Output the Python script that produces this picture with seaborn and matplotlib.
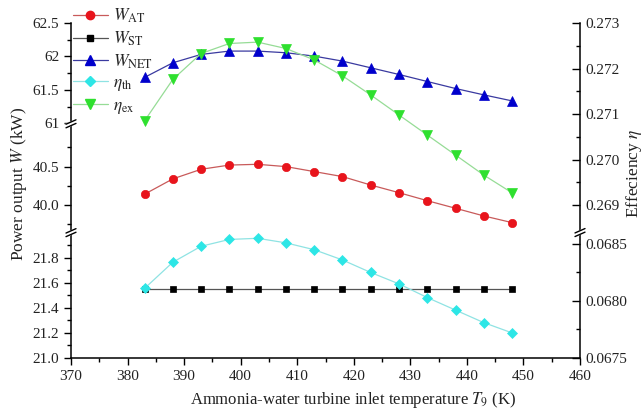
import numpy as np
import pandas as pd
import matplotlib
matplotlib.use("Agg")
import matplotlib.pyplot as plt
from matplotlib.scale import FuncScale
from matplotlib.lines import Line2D
import seaborn as sns

# ---- data -------------------------------------------------------------
T9 = [383, 388, 393, 398, 403, 408, 413, 418, 423, 428, 433, 438, 443, 448]
W_AT = [40.14, 40.34, 40.465, 40.52, 40.53, 40.50, 40.435, 40.37, 40.26,
        40.16, 40.056, 39.957, 39.857, 39.77]
W_ST = [21.55, 21.55, 21.55, 21.55, 21.55, 21.55, 21.55, 21.55, 21.55,
        21.55, 21.55, 21.55, 21.55, 21.55]
W_NET = [61.686, 61.905, 62.03, 62.08, 62.08, 62.055, 62.005, 61.93, 61.83,
         61.73, 61.625, 61.52, 61.425, 61.335]
ETA_TH = [0.06811, 0.06834, 0.06848, 0.06854, 0.06855, 0.06851, 0.06845,
          0.06836, 0.06825, 0.06815, 0.06803, 0.06792, 0.06781, 0.06772]
ETA_EX = [0.27085, 0.27176, 0.27233, 0.27255, 0.27258, 0.27244, 0.27219,
          0.27184, 0.27142, 0.27098, 0.27054, 0.27010, 0.26966, 0.26927]

LEFT_MAJOR = [21.0, 21.2, 21.4, 21.6, 21.8, 40.0, 40.5, 61.0, 61.5, 62.0, 62.5]
LEFT_LABELS = ["21.0", "21.2", "21.4", "21.6", "21.8", "40.0", "40.5",
               "61", "61.5", "62", "62.5"]
LEFT_MINOR = [21.1, 21.3, 21.5, 21.7, 21.9, 39.75, 40.25, 40.75,
              61.25, 61.75, 62.25]
RIGHT_MAJOR = [0.0675, 0.0680, 0.0685, 0.269, 0.270, 0.271, 0.272, 0.273]
RIGHT_LABELS = ["0.0675", "0.0680", "0.0685", "0.269", "0.270", "0.271",
                "0.272", "0.273"]
RIGHT_MINOR = [0.06775, 0.06825, 0.2695, 0.2705, 0.2715, 0.2725]

# ---- broken-axis layout (value -> height in px above the x axis) -------
LEFT_BREAK_VALUES = [21.0, 22.0, 39.64, 41.05, 61.0, 62.5]
LEFT_BREAK_POS = [0.0, 125.3, 125.4, 233.6, 234.7, 335.0]
RIGHT_BREAK_VALUES = [0.0675, 0.0686, 0.2684, 0.273]
RIGHT_BREAK_POS = [0.0, 125.4, 125.5, 335.0]


def piecewise(xp, fp):
    xp = np.asarray(xp, float)
    fp = np.asarray(fp, float)
    lo_slope = (fp[1] - fp[0]) / (xp[1] - xp[0])
    hi_slope = (fp[-1] - fp[-2]) / (xp[-1] - xp[-2])

    def f(v):
        v = np.asarray(v, float)
        out = np.interp(v, xp, fp)
        out = np.where(v < xp[0], fp[0] + (v - xp[0]) * lo_slope, out)
        out = np.where(v > xp[-1], fp[-1] + (v - xp[-1]) * hi_slope, out)
        return out
    return f


sns.set_style("ticks")
plt.rcParams["font.family"] = ["Liberation Serif", "DejaVu Serif"]
plt.rcParams["mathtext.fontset"] = "stix"

W, H = 643, 412
fig = plt.figure(figsize=(W / 100, H / 100), dpi=100)
ax = fig.add_axes([71 / W, 1 - 358 / H, 509 / W, 335 / H])
ax2 = ax.twinx()

ax.set_yscale(FuncScale(ax.yaxis, (piecewise(LEFT_BREAK_VALUES, LEFT_BREAK_POS),
                                   piecewise(LEFT_BREAK_POS, LEFT_BREAK_VALUES))))
ax2.set_yscale(FuncScale(ax2.yaxis, (piecewise(RIGHT_BREAK_VALUES, RIGHT_BREAK_POS),
                                     piecewise(RIGHT_BREAK_POS, RIGHT_BREAK_VALUES))))

df = pd.DataFrame({"T9": T9, "W_AT": W_AT, "W_ST": W_ST, "W_NET": W_NET,
                   "eta_th": ETA_TH, "eta_ex": ETA_EX})

series = [
    (ax, "W_AT", r"$W_{\rm AT}$", "#c85a5a", "#e8141c", "o", 6.0),
    (ax, "W_ST", r"$W_{\rm ST}$", "#555555", "#000000", "s", 5.0),
    (ax, "W_NET", r"$W_{\rm NET}$", "#3a3aa0", "#0000cc", "^", 6.5),
    (ax2, "eta_th", r"$\eta_{\rm th}$", "#8fe3e3", "#2de6e6", "D", 5.0),
    (ax2, "eta_ex", r"$\eta_{\rm ex}$", "#96dc96", "#2ee02e", "v", 6.5),
]
handles = []
for target, col, label, lcolor, mcolor, marker, ms in series:
    sns.lineplot(data=df, x="T9", y=col, ax=target, color=lcolor, lw=0.9,
                 marker=marker, markersize=ms, markerfacecolor=mcolor,
                 markeredgecolor=mcolor, markeredgewidth=0.5, legend=False)
    handles.append(Line2D([], [], color=lcolor, lw=0.9, marker=marker,
                          markersize=ms, markerfacecolor=mcolor,
                          markeredgecolor=mcolor, label=label))

ax.set_xlim(370, 460)
ax.set_ylim(21.0, 62.5)
ax2.set_ylim(0.0675, 0.273)

ax.set_xticks(np.arange(370, 461, 10))
ax.set_xticks(np.arange(375, 460, 10), minor=True)
ax.set_yticks(LEFT_MAJOR)
ax.set_yticklabels(LEFT_LABELS)
ax.set_yticks(LEFT_MINOR, minor=True)
ax2.set_yticks(RIGHT_MAJOR)
ax2.set_yticklabels(RIGHT_LABELS)
ax2.set_yticks(RIGHT_MINOR, minor=True)

tick_color = "#222222"
ax.tick_params(axis="both", which="major", direction="out", length=5,
               width=1, labelsize=11, colors="black", labelcolor=tick_color)
ax.tick_params(axis="both", which="minor", direction="out", length=3,
               width=1, colors="black")
ax2.tick_params(axis="y", which="major", direction="in", length=6, width=1,
                labelsize=11, colors="black", labelcolor=tick_color, pad=4)
ax2.tick_params(axis="y", which="minor", direction="in", length=3, width=1,
                colors="black")

for s in ("top", "right"):
    ax.spines[s].set_visible(False)
for s in ("top", "left", "bottom"):
    ax2.spines[s].set_visible(False)
for a in (ax, ax2):
    for s in a.spines.values():
        s.set_linewidth(1.1)
        s.set_color("black")

ax.set_xlabel(r"Ammonia-water turbine inlet temperature $T_9$ (K)",
              fontsize=12, color=tick_color)
ax.xaxis.set_label_coords(0.555, -0.097)
ax.set_ylabel(r"Power output $W$ (kW)", fontsize=12.5, color=tick_color)
ax.yaxis.set_label_coords(-0.082, 0.52)
ax2.set_ylabel(r"Effeciency $\eta$", fontsize=12.5, color=tick_color)
ax2.yaxis.set_label_coords(1.087, 0.55)


def draw_break(a, x, y):
    w, h, gap = 5 / 509, 2.2 / 335, 1.8 / 335
    a.fill([x - w, x + w, x + w, x - w],
           [y - h - gap, y + h - gap, y + h + gap, y - h + gap],
           color="white", transform=a.transAxes, clip_on=False, zorder=10)
    for s in (-gap, gap):
        a.plot([x - w, x + w], [y - h + s, y + h + s], color="black", lw=1.0,
               transform=a.transAxes, clip_on=False, zorder=11)


draw_break(ax2, 0.0, 125.35 / 335)
draw_break(ax2, 0.0, 234.2 / 335)
draw_break(ax2, 1.0, 125.45 / 335)

fig.legend(handles=handles, loc="upper left",
           bbox_to_anchor=(73 / W, 1 - 7 / H), frameon=False, fontsize=12.5,
           handlelength=2.0, handletextpad=0.3, labelspacing=0.25,
           borderpad=0, borderaxespad=0)

fig.savefig("out.png", dpi=100)
